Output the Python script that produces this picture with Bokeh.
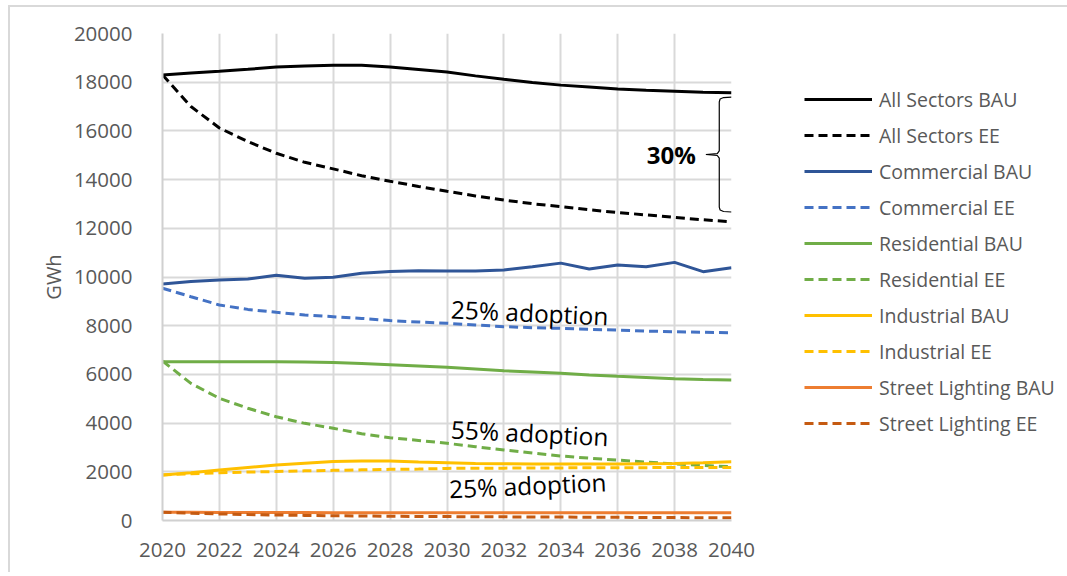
from bokeh.plotting import figure
from bokeh.models import ColumnDataSource, Legend, LegendItem, FixedTicker
from bokeh.core.properties import value
from bokeh.embed import file_html
from bokeh.resources import INLINE

years = list(range(2020, 2041))

all_bau = [18300, 18380, 18450, 18530, 18620, 18670, 18700, 18700, 18620, 18520, 18420,
           18260, 18120, 17990, 17880, 17800, 17720, 17670, 17630, 17590, 17570]
all_ee = [18300, 17000, 16120, 15560, 15080, 14710, 14440, 14160, 13930, 13720, 13520,
          13330, 13160, 13010, 12890, 12760, 12650, 12550, 12450, 12350, 12270]
com_bau = [9710, 9820, 9880, 9920, 10070, 9950, 9990, 10150, 10230, 10260, 10250,
           10250, 10290, 10420, 10570, 10330, 10490, 10420, 10600, 10220, 10380]
com_ee = [9540, 9190, 8850, 8670, 8550, 8440, 8370, 8300, 8210, 8150, 8100,
          8030, 7960, 7920, 7890, 7850, 7820, 7780, 7750, 7730, 7710]
res_bau = [6520, 6520, 6520, 6520, 6520, 6510, 6490, 6450, 6400, 6350, 6290,
           6220, 6150, 6100, 6050, 5980, 5920, 5870, 5820, 5790, 5770]
res_ee = [6550, 5630, 5020, 4610, 4260, 3990, 3790, 3560, 3400, 3290, 3170,
          3030, 2900, 2770, 2650, 2560, 2480, 2400, 2320, 2260, 2210]
ind_bau = [1870, 1960, 2070, 2180, 2280, 2350, 2420, 2440, 2440, 2400, 2370,
           2340, 2330, 2320, 2320, 2320, 2320, 2330, 2340, 2370, 2410]
ind_ee = [1870, 1920, 1960, 1990, 2010, 2040, 2060, 2080, 2100, 2110, 2140,
          2150, 2150, 2160, 2160, 2170, 2170, 2170, 2180, 2180, 2180]
sl_bau = [340, 335, 330, 330, 325, 325, 320, 320, 320, 320, 320,
          320, 320, 320, 320, 320, 320, 320, 320, 320, 320]
sl_ee = [340, 300, 270, 245, 225, 210, 195, 185, 175, 165, 160,
         155, 150, 145, 140, 135, 130, 125, 120, 115, 110]

series_names = ["All Sectors BAU", "All Sectors EE", "Commercial BAU", "Commercial EE",
                "Residential BAU", "Residential EE", "Industrial BAU", "Industrial EE",
                "Street Lighting BAU", "Street Lighting EE"]
series_values = [all_bau, all_ee, com_bau, com_ee, res_bau, res_ee, ind_bau, ind_ee, sl_bau, sl_ee]
series_colors = ["#000000", "#000000", "#2F5597", "#4472C4", "#70AD47", "#70AD47",
                 "#FFC000", "#FFC000", "#ED7D31", "#C55A11"]
series_dash = ["solid", "9 5", "solid", "9 5", "solid", "9 5", "solid", "9 5", "solid", "9 5"]
series_width = [3, 3, 3, 3, 3, 3, 3, 3, 3, 3]

x_ticks = list(range(2020, 2041, 2))
y_ticks = list(range(0, 20001, 2000))

note_text = ["25% adoption", "55% adoption", "25% adoption"]
note_x = [2030.14, 2030.14, 2030.07]
note_y = [8690, 3760, 1300]
note_angle = [-0.045, -0.05, 0.045]

brace_label = ["30%"]

FONT = "Open Sans"
GRAY = "#595959"
GRID = "#d9d9d9"

p = figure(frame_width=569, frame_height=487, min_border_left=152, min_border_right=320,
           min_border_top=26, min_border_bottom=52,
           x_range=(2020, 2040), y_range=(0, 20000),
           output_backend="svg", toolbar_location=None)
p.styles = {"border-top": "2px solid #d9d9d9", "border-left": "2px solid #d9d9d9",
            "margin-left": "8px", "margin-top": "5px"}
p.outline_line_color = None
p.background_fill_color = "white"
p.border_fill_color = "white"

p.xaxis.ticker = FixedTicker(ticks=x_ticks)
p.yaxis.ticker = FixedTicker(ticks=y_ticks)
for ax in (p.xaxis[0], p.yaxis[0]):
    ax.major_tick_line_color = None
    ax.minor_tick_line_color = None
    ax.axis_line_color = "#d0d0d0"
    ax.axis_line_width = 2
    ax.major_label_text_font = FONT
    ax.major_label_text_font_size = "20.5px"
    ax.major_label_text_color = GRAY
p.xaxis.major_label_standoff = 16
p.yaxis.major_label_standoff = 24
p.yaxis.axis_label = "GWh"
p.yaxis.axis_label_text_font = FONT
p.yaxis.axis_label_text_font_size = "20px"
p.yaxis.axis_label_text_font_style = "normal"
p.yaxis.axis_label_text_color = GRAY
p.yaxis.axis_label_standoff = 4

p.xgrid.ticker = FixedTicker(ticks=x_ticks)
p.ygrid.ticker = FixedTicker(ticks=y_ticks)
p.grid.grid_line_color = GRID
p.grid.grid_line_width = 2

items = []
for name, vals, col, dash, w in zip(series_names, series_values, series_colors, series_dash, series_width):
    src = ColumnDataSource(dict(x=years, y=vals))
    r = p.line("x", "y", source=src, line_color=col, line_width=w, line_dash=dash)
    items.append(LegendItem(label=name, renderers=[r]))

legend = Legend(items=items, location=(73, 79), margin=0, padding=0,
                glyph_width=68, glyph_height=36, label_height=36, spacing=0,
                label_standoff=7, label_text_font=FONT, label_text_font_size="19.5px",
                label_text_color=GRAY, border_line_color=None, background_fill_alpha=0)
p.add_layout(legend, "right")

# adoption notes
nsrc = ColumnDataSource(dict(x=note_x, y=note_y, t=note_text, a=note_angle))
p.text("x", "y", text="t", angle="a", source=nsrc, text_font=value(FONT),
       text_font_size="24.5px", text_color="#000000", text_align="left", text_baseline="middle")

# brace between final All Sectors BAU and EE values
y_top = all_bau[-1] - 180
y_bot = all_ee[-1] + 400
y_mid = (y_top + y_bot) / 2
bx = [2040.0, 2039.72, 2039.6, 2039.57, 2039.57, 2039.5, 2039.1,
      2039.5, 2039.57, 2039.57, 2039.6, 2039.72, 2040.0]
by = [y_top, y_top - 20, y_top - 80, y_top - 200, y_mid + 150, y_mid + 40, y_mid,
      y_mid - 40, y_mid - 150, y_bot + 200, y_bot + 80, y_bot + 20, y_bot]
p.line(bx, by, line_color="#000000", line_width=1.2)
bsrc = ColumnDataSource(dict(x=[2038.75], y=[y_mid], t=brace_label))
p.text("x", "y", text="t", source=bsrc, text_font=value(FONT), text_font_size="24px",
       text_font_style="bold", text_color="#000000", text_align="right", text_baseline="middle")

open("out.html", "w").write(file_html(p, INLINE))
